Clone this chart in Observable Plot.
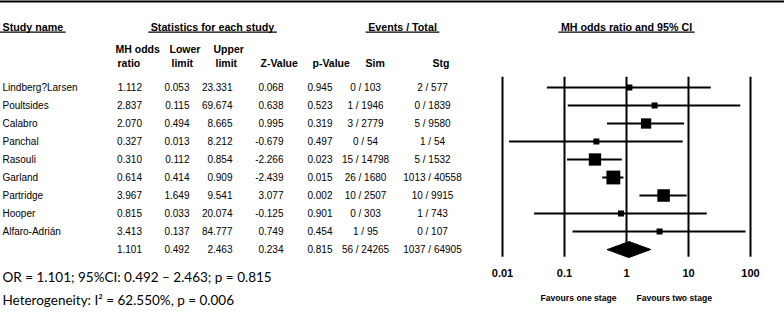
<!DOCTYPE html>
<html>
<head>
<meta charset="utf-8">
<script src="https://cdn.jsdelivr.net/npm/d3@7"></script>
<script src="https://cdn.jsdelivr.net/npm/@observablehq/plot@0.6"></script>
<style>
  html, body { margin: 0; padding: 0; background: #fff; }
  #chart { width: 784px; height: 312px; }
</style>
</head>
<body>
<div id="chart"></div>
<script>
// ---- Data ----
const studies = ["Lindberg?Larsen", "Poultsides", "Calabro", "Panchal", "Rasouli", "Garland", "Partridge", "Hooper", "Alfaro-Adrián"];
const oddsRatio = [1.112, 2.837, 2.070, 0.327, 0.310, 0.614, 3.967, 0.815, 3.413];
const lowerLimit = [0.053, 0.115, 0.494, 0.013, 0.112, 0.414, 1.649, 0.033, 0.137];
const upperLimit = [23.331, 69.674, 8.665, 8.212, 0.854, 0.909, 9.541, 20.074, 84.777];
const zValue = [0.068, 0.638, 0.995, -0.679, -2.266, -2.439, 3.077, -0.125, 0.749];
const pValue = [0.945, 0.523, 0.319, 0.497, 0.023, 0.015, 0.002, 0.901, 0.454];
const simEvents = [0, 1, 3, 0, 15, 26, 10, 0, 1];
const simTotal = [103, 1946, 2779, 54, 14798, 1680, 2507, 303, 95];
const stgEvents = [2, 0, 5, 1, 5, 1013, 10, 1, 0];
const stgTotal = [577, 1839, 9580, 54, 1532, 40558, 9915, 743, 107];
const relWeight = [4.6, 4.6, 13.5, 4.6, 19.3, 24.3, 19.9, 4.6, 4.6];

const pooled = [1.101, 0.492, 2.463, 0.234, 0.815]; // OR, lower, upper, Z, p

const ticks = [0.01, 0.1, 1, 10, 100];
const tickLabels = ["0.01", "0.1", "1", "10", "100"];

const headerTop = ["Study name", "Statistics for each study", "Events / Total", "MH odds ratio and 95% CI"];
const subHeader1 = ["MH odds", "Lower", "Upper"];
const subHeader2 = ["ratio", "limit", "limit", "Z-Value", "p-Value", "Sim", "Stg"];
const favours = ["Favours one stage", "Favours two stage"];
const footnotes = ["OR = 1.101; 95%CI: 0.492 – 2.463; p = 0.815", "Heterogeneity: I² = 62.550%, p = 0.006"];

// ---- Table built from the arrays ----
const rows = studies.map((name, i) => ({
  row: i, name,
  or: oddsRatio[i], lower: lowerLimit[i], upper: upperLimit[i],
  z: zValue[i], p: pValue[i],
  simE: simEvents[i], simT: simTotal[i], stgE: stgEvents[i], stgT: stgTotal[i],
  w: relWeight[i]
}));
const summaryRow = {
  row: studies.length, name: "",
  or: pooled[0], lower: pooled[1], upper: pooled[2], z: pooled[3], p: pooled[4],
  simE: d3.sum(simEvents), simT: d3.sum(simTotal), stgE: d3.sum(stgEvents), stgT: d3.sum(stgTotal)
};
const allRows = [...rows, summaryRow];
const fmt = v => v.toFixed(3);

// layout (pixel offsets of table columns)
const columns = [
  {get: d => fmt(d.or), dx: 141.5, anchor: "end"},
  {get: d => fmt(d.lower), dx: 189, anchor: "end"},
  {get: d => fmt(d.upper), dx: 232, anchor: "end"},
  {get: d => fmt(d.z), dx: 283, anchor: "end"},
  {get: d => fmt(d.p), dx: 332, anchor: "end"},
  {get: d => `${d.simE} / ${d.simT}`, dx: 365, anchor: "middle"},
  {get: d => `${d.stgE} / ${d.stgT}`, dx: 432, anchor: "middle"}
];
const sub1X = [115, 169, 213];
const sub2X = [117, 171, 215, 260, 312, 365, 432];
const headerPos = [{dx: 2, anchor: "start"}, {dx: 212, anchor: "middle"}, {dx: 402, anchor: "middle"}];

const diamond = [
  {x: pooled[1], y: summaryRow.row},
  {x: pooled[0], y: summaryRow.row - 0.44},
  {x: pooled[2], y: summaryRow.row},
  {x: pooled[0], y: summaryRow.row + 0.44}
];

const mid = {lineAnchor: "middle"};

const marks = [
  Plot.frame({anchor: "top", strokeWidth: 2}),
  // headers
  ...headerTop.slice(0, 3).map((h, i) => Plot.text([h], {
    ...mid, text: d => d, frameAnchor: "top-left", dx: headerPos[i].dx, dy: 25.7,
    textAnchor: headerPos[i].anchor, fontWeight: "bold", fontSize: 10.7
  })),
  Plot.text([headerTop[3]], {...mid, text: d => d, x: () => 1, frameAnchor: "top", dy: 25.7,
    fontWeight: "bold", fontSize: 10.7}),
  ...subHeader1.map((h, i) => Plot.text([h], {
    ...mid, text: d => d, frameAnchor: "top-left", dx: sub1X[i], dy: 48, fontWeight: "bold", fontSize: 10.5
  })),
  ...subHeader2.map((h, i) => Plot.text([h], {
    ...mid, text: d => d, frameAnchor: "top-left", dx: sub2X[i], dy: 62, fontWeight: "bold", fontSize: 10.5
  })),
  // study names and columns
  Plot.text(allRows, {...mid, y: "row", text: "name", frameAnchor: "left", dx: 2, textAnchor: "start", fontSize: 10}),
  ...columns.map(c => Plot.text(allRows, {...mid, y: "row", text: c.get, frameAnchor: "left", dx: c.dx, textAnchor: c.anchor, fontSize: 10})),
  // forest plot
  Plot.ruleX(ticks, {x: d => d, y1: -0.57, y2: 9.43, strokeWidth: 2}),
  Plot.ruleY(rows, {y: "row", x1: "lower", x2: "upper", strokeWidth: 2}),
  Plot.dot(rows, {x: "or", y: "row", r: "w", symbol: "square", fill: "black", stroke: "none"}),
  Plot.line(diamond, {x: "x", y: "y", fill: "black", stroke: "black", strokeWidth: 1, curve: "linear-closed"}),
  Plot.axisX(ticks, {anchor: "bottom", tickSize: 0, tickPadding: 3, label: null,
    tickFormat: d => tickLabels[ticks.indexOf(d)], fontWeight: "bold", fontSize: 11}),
  Plot.text([favours[0]], {...mid, text: d => d, x: () => 1, frameAnchor: "top", dy: 297, dx: -10, textAnchor: "end", fontWeight: "bold", fontSize: 8.6}),
  Plot.text([favours[1]], {...mid, text: d => d, x: () => 1, frameAnchor: "top", dy: 297, dx: 10, textAnchor: "start", fontWeight: "bold", fontSize: 8.6}),
  // footnotes
  ...footnotes.map((f, i) => Plot.text([f], {...mid, text: d => d, frameAnchor: "top-left", dx: 2, dy: 276 + i * 23,
    textAnchor: "start", fontFamily: "Lato", fontSize: 13.5}))
];

const chart = Plot.plot({
  width: 784,
  height: 312,
  marginTop: 1,
  marginBottom: 46,
  marginLeft: 0,
  marginRight: 0,
  style: {fontFamily: "'Liberation Sans', Arial, sans-serif", fontSize: "10px", background: "white", color: "black"},
  x: {type: "log", domain: [0.01, 100], range: [502, 750]},
  y: {type: "linear", domain: [0, 9], range: [87, 249], axis: null},
  r: {type: "sqrt", domain: [0, 24.3], range: [0, 7.8]},
  marks
});

document.getElementById("chart").appendChild(chart);

// underline the top-level headers (measured from the rendered text)
const svgRect = chart.getBoundingClientRect();
const under = d3.select(chart).append("g").attr("aria-label", "header underlines");
chart.querySelectorAll("text").forEach(t => {
  if (!headerTop.includes(t.textContent)) return;
  const r = t.getBoundingClientRect();
  const x0 = r.left - svgRect.left, x1 = r.right - svgRect.left;
  const baseline = r.top - svgRect.top + r.height * (0.905 / 1.117);
  under.append("line")
    .attr("x1", Math.max(0, x0 - 2.5)).attr("x2", x1 + 2.5)
    .attr("y1", baseline + 1.8).attr("y2", baseline + 1.8)
    .attr("stroke", "black").attr("stroke-width", 1.3);
});
</script>
</body>
</html>
